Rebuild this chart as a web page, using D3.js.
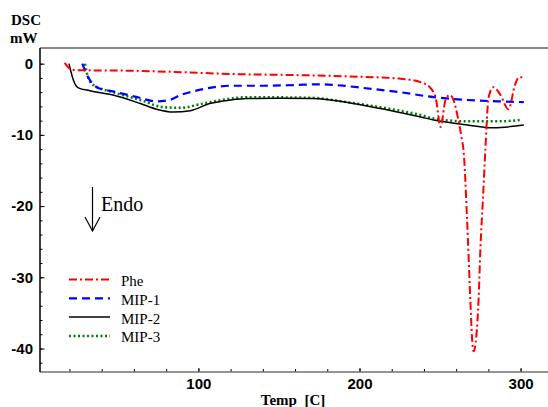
<!DOCTYPE html>
<html>
<head>
<meta charset="utf-8">
<script src="https://cdn.jsdelivr.net/npm/d3@7"></script>
<style>
  body { margin: 0; background: #fff; }
  svg { display: block; font-family: "Liberation Serif", "DejaVu Serif", serif; }
  .tick text { font-weight: bold; font-size: 15px; fill: #000; }
</style>
</head>
<body>
<div id="chart"></div>
<script>
// DSC curves: [temp C, mW]
var phe = [[17, 0.1], [22, -0.9], [60, -1.0], [90, -1.2], [120, -1.45], [160, -1.6], [195, -1.8],
  [225, -2.1], [238, -2.6], [244, -3.4], [247.5, -5.0], [250.3, -8.9], [253.5, -5.0], [256, -4.4],
  [258.2, -5.0], [261, -7.5], [263.6, -10.7], [264.6, -12.2], [266.7, -21.5], [268.8, -33.2],
  [269.8, -38.3], [270.8, -40.4], [272.5, -38.3], [273.9, -33.2], [275, -26.2], [276.6, -19.1],
  [278.1, -12.2], [280.1, -4.8], [283, -3.3], [287, -4.2], [292.5, -6.4], [296.5, -3.0],
  [299, -1.9], [302, -1.9]];
var mip1 = [[28, 0], [30, -1.2], [32.7, -2.3], [37, -3.3], [49, -4.0], [62, -4.7], [74, -5.3],
  [82, -5.1], [89, -4.4], [95, -4.0], [107, -3.4], [120, -3.1], [140, -3.1], [160, -3.0],
  [175, -2.9], [190, -3.1], [202, -3.4], [225, -4.0], [246, -4.7], [267, -5.1], [287, -5.3],
  [302, -5.4]];
var mip2 = [[19.7, 0], [21, -1.2], [22.4, -2.3], [25.5, -3.4], [32.7, -3.8], [47, -4.4], [64, -5.6],
  [74, -6.4], [84.5, -6.8], [95, -6.6], [107, -5.6], [120, -5.1], [130, -4.9], [150, -4.85],
  [171, -4.9], [182, -5.1], [213, -6.3], [238, -7.5], [246, -7.9], [267, -8.6], [283, -9.0],
  [302, -8.6]];
var mip3 = [[29.6, 0], [31.5, -1.9], [34.8, -3.0], [47, -4.0], [64, -5.1], [78, -6.1], [88.6, -6.2],
  [103, -5.6], [120, -4.9], [130, -4.7], [171, -4.8], [192, -5.4], [225, -6.6], [238, -7.2],
  [246, -7.7], [267, -8.1], [287, -8.1], [300, -7.9]];

var seriesNames = ["Phe", "MIP-1", "MIP-2", "MIP-3"];
var xTicks = [100, 200, 300];
var yTicks = [0, -10, -20, -30, -40];

var svgWidth = 548;
var svgHeight = 407;
var margin = { top: 48, right: 0, bottom: 35, left: 40 };
var chartWidth = svgWidth - margin.left - margin.right;
var chartHeight = svgHeight - margin.top - margin.bottom;

var svg = d3.select("#chart")
  .append("svg")
  .attr("width", svgWidth)
  .attr("height", svgHeight);

var chartGroup = svg.append("g")
  .attr("transform", `translate(${margin.left}, ${margin.top})`);

var xScale = d3.scaleLinear().domain([1.7, 317]).range([0, chartWidth]);
var yScale = d3.scaleLinear().domain([-43.3, 2.2]).range([chartHeight, 0]);

// minor ticks first (inside)
chartGroup.append("g")
  .attr("transform", `translate(0, ${chartHeight})`)
  .call(d3.axisTop(xScale).tickValues(d3.range(20, 317, 20)).tickSize(3).tickFormat(""))
  .call(g => g.select(".domain").remove());
chartGroup.append("g")
  .call(d3.axisRight(yScale).tickValues(d3.range(-42, 2, 2)).tickSize(2.5).tickFormat(""))
  .call(g => g.select(".domain").remove());

// major ticks, plain hyphen for negatives
var xAxis = chartGroup.append("g")
  .attr("transform", `translate(0, ${chartHeight})`)
  .call(d3.axisBottom(xScale).tickValues(xTicks).tickSize(0).tickPadding(6).tickFormat(d => String(d)));
xAxis.select(".domain").remove();
chartGroup.append("g")
  .attr("transform", `translate(0, ${chartHeight})`)
  .call(d3.axisTop(xScale).tickValues(xTicks).tickSize(4).tickFormat(""))
  .call(g => g.select(".domain").remove());

var yAxis = chartGroup.append("g")
  .call(d3.axisLeft(yScale).tickValues(yTicks).tickSize(0).tickPadding(7).tickFormat(d => String(d)));
yAxis.select(".domain").remove();
chartGroup.append("g")
  .call(d3.axisRight(yScale).tickValues(yTicks).tickSize(4.5).tickFormat(""))
  .call(g => g.select(".domain").remove());

// frame lines
chartGroup.append("line")
  .attr("x1", 0).attr("x2", chartWidth).attr("y1", 0).attr("y2", 0)
  .attr("stroke", "#8a8a8a").attr("stroke-width", 2);
chartGroup.append("line")
  .attr("x1", 0).attr("x2", chartWidth).attr("y1", chartHeight).attr("y2", chartHeight)
  .attr("stroke", "#707070").attr("stroke-width", 1.5);
chartGroup.append("line")
  .attr("x1", 0).attr("x2", 0).attr("y1", 0).attr("y2", chartHeight)
  .attr("stroke", "#000").attr("stroke-width", 1.5);

var styles = [
  { data: phe, color: "#ff0000", dash: "8,3,2,3", width: 2 },
  { data: mip1, color: "#0000ff", dash: "8,5", width: 2.2 },
  { data: mip2, color: "#000000", dash: null, width: 1.5 },
  { data: mip3, color: "#008000", dash: "2,2.5", width: 2.5 }
];

var line = d3.line()
  .x(d => xScale(d[0]))
  .y(d => yScale(d[1]))
  .curve(d3.curveMonotoneX);

// draw back to front: MIP-3, MIP-2, MIP-1, Phe
[3, 2, 1, 0].forEach(function(i) {
  var s = styles[i];
  chartGroup.append("path")
    .datum(s.data)
    .attr("d", line)
    .attr("fill", "none")
    .attr("stroke", s.color)
    .attr("stroke-width", s.width)
    .attr("stroke-dasharray", s.dash);
});

// legend
var legend = svg.append("g");
seriesNames.forEach(function(name, i) {
  var s = styles[i];
  var ly = 279.5 + i * 18.8;
  legend.append("line")
    .attr("x1", 69).attr("x2", 110).attr("y1", ly).attr("y2", ly)
    .attr("stroke", s.color)
    .attr("stroke-width", s.width)
    .attr("stroke-dasharray", s.dash);
  legend.append("text")
    .attr("x", 121).attr("y", ly + 6.5)
    .attr("font-size", "15px")
    .text(name);
});

// Endo arrow
svg.append("line")
  .attr("x1", 92.5).attr("x2", 92.5).attr("y1", 187).attr("y2", 231)
  .attr("stroke", "#000").attr("stroke-width", 1.2);
svg.append("path")
  .attr("d", "M85,217 L92.5,231 L100,217")
  .attr("fill", "none").attr("stroke", "#000").attr("stroke-width", 1.2);
svg.append("text")
  .attr("x", 101).attr("y", 211)
  .attr("font-size", "20px")
  .text("Endo");

// axis titles
svg.append("text")
  .attr("x", 11).attr("y", 25)
  .attr("font-size", "15px").attr("font-weight", "bold")
  .text("DSC");
svg.append("text")
  .attr("x", 10).attr("y", 43)
  .attr("font-size", "15px").attr("font-weight", "bold")
  .text("mW");
svg.append("text")
  .attr("x", 293).attr("y", 405)
  .attr("text-anchor", "middle")
  .attr("font-size", "15px").attr("font-weight", "bold")
  .attr("xml:space", "preserve")
  .text("Temp  [C]");
</script>
</body>
</html>
